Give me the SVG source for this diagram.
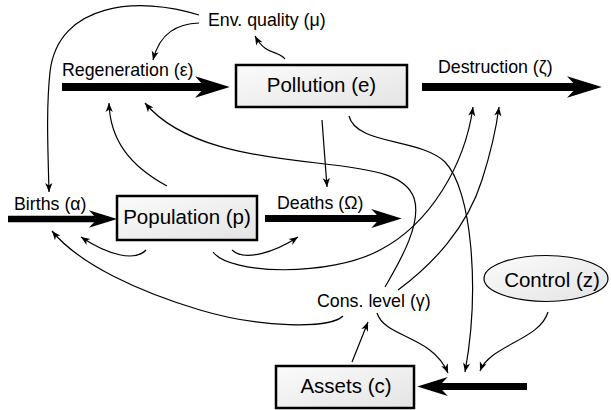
<svg xmlns="http://www.w3.org/2000/svg" width="611" height="410" viewBox="0 0 611 410">
<defs>
  <linearGradient id="boxfill" x1="0" y1="0" x2="1" y2="1">
    <stop offset="0" stop-color="#fbfbfb"/>
    <stop offset="1" stop-color="#e4e4e4"/>
  </linearGradient>
  <marker id="big" markerUnits="strokeWidth" viewBox="-2 -2 6 4" markerWidth="6" markerHeight="4" refX="0" refY="0" orient="auto" overflow="visible">
    <path d="M-1.25,-1.35 L3.1,0 L-1.25,1.35 Q-0.4,0.45 0,0 Q-0.4,-0.45 -1.25,-1.35 Z" fill="#000"/>
  </marker>
  <marker id="small" markerUnits="userSpaceOnUse" viewBox="-10 -5 12 10" markerWidth="12" markerHeight="10" refX="0" refY="0" orient="auto" overflow="visible">
    <path d="M-9,-3.6 L0,0 L-9,3.6 L-6.5,0 Z" fill="#000"/>
  </marker>
  <style>
    .box { fill: url(#boxfill); stroke: #000; stroke-width: 2.5; }
    .oval { fill: url(#boxfill); stroke: #000; stroke-width: 1.2; }
    .big { font-family: "Liberation Sans", Arial, sans-serif; font-size: 20.5px; fill: #000; text-anchor: middle; }
    .lbl { font-family: "Liberation Sans", Arial, sans-serif; font-size: 17.8px; fill: #000; }
    .flow { fill: none; stroke: #000; marker-end: url(#big); }
    .link { fill: none; stroke: #000; stroke-width: 1.2; marker-end: url(#small); }
  </style>
</defs>

<g id="flows">
  <path class="flow" stroke-width="8" d="M62,87 L205,87"/>
  <path class="flow" stroke-width="8" d="M422,87 L577,87"/>
  <path class="flow" stroke-width="6.5" d="M8,219 L97,219"/>
  <path class="flow" stroke-width="7" d="M265,218.5 L380,218.5"/>
  <path class="flow" stroke-width="7" d="M527,386.5 L439,386.5"/>
</g>

<g id="connectors">
  <path class="link" d="M199,15 C140,-4 58,2 50,72 C46,110 48,150 49,192"/>
  <path class="link" d="M199,23 C178,24 160,32 153,60"/>
  <path class="link" d="M285,59 C278,50 266,56 255,36"/>
  <path class="link" d="M167,186 C130,166 110,140 109,103"/>
  <path class="link" d="M385,287 C402,258 422,222 414,198 C406,176 380,170 317,163 C250,156 180,145 145,103"/>
  <path class="link" d="M213,252 C230,275 330,277 380,250 C430,224 465,165 473,107"/>
  <path class="link" d="M398,290 C432,265 467,228 482,180 C490,155 496,130 499,107"/>
  <path class="link" d="M349,116 C356,145 420,138 445,162 C472,190 480,290 465,372"/>
  <path class="link" d="M377,313 C385,338 432,335 448,373"/>
  <path class="link" d="M548,312 C540,340 490,345 480,371"/>
  <path class="link" d="M352,362 L368,322"/>
  <path class="link" d="M343,316 C330,329 260,328 200,310 C140,292 80,265 52,231"/>
  <path class="link" d="M146,250 C135,262 108,255 81,237"/>
  <path class="link" d="M232,250 C245,262 275,252 298,237"/>
  <path class="link" d="M322,120 L327,187"/>
</g>

<g id="pollution">
  <rect class="box" x="236" y="65" width="171" height="42"/>
  <text class="big" x="321.5" y="92">Pollution (e)</text>
</g>
<g id="population">
  <rect class="box" x="117" y="196" width="140" height="44"/>
  <text class="big" x="187" y="223.5">Population (p)</text>
</g>
<g id="assets">
  <rect class="box" x="276" y="366" width="138" height="42"/>
  <text class="big" x="346" y="392.5">Assets (c)</text>
</g>
<g id="control">
  <ellipse class="oval" cx="546" cy="278.5" rx="62" ry="23"/>
  <text class="big" x="552" y="286.5">Control (z)</text>
</g>
<g id="env-quality">
  <text class="lbl" x="208" y="26">Env. quality (μ)</text>
</g>
<g id="regeneration">
  <text class="lbl" x="62" y="76">Regeneration (ε)</text>
</g>
<g id="destruction">
  <text class="lbl" x="438" y="73">Destruction (ζ)</text>
</g>
<g id="births">
  <text class="lbl" x="14" y="210">Births (α)</text>
</g>
<g id="deaths">
  <text class="lbl" x="277" y="209">Deaths (Ω)</text>
</g>
<g id="cons-level">
  <text class="lbl" x="317" y="307">Cons. level (γ)</text>
</g>
</svg>
